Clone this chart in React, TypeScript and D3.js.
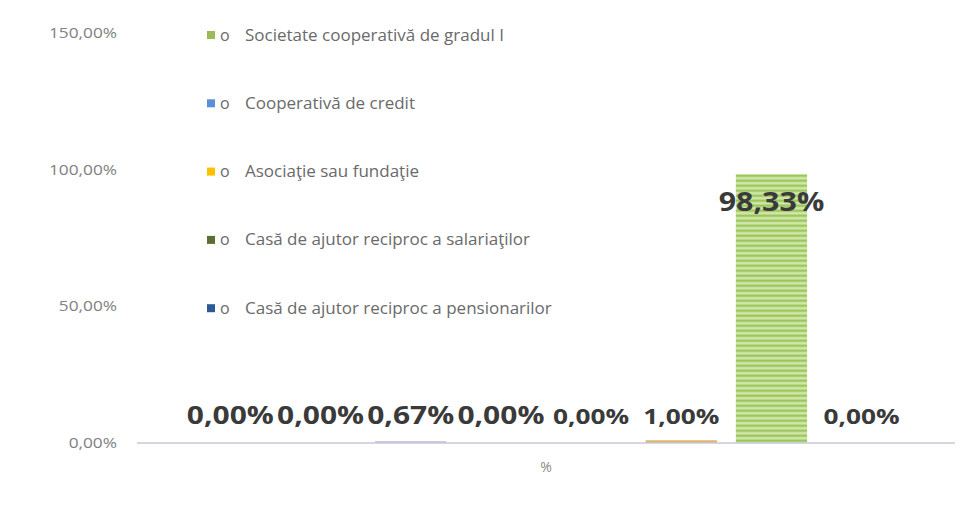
import React from "react";
import * as d3 from "d3";

const category = ["%"];
const legendNames = [
  "Societate cooperativă de gradul I",
  "Cooperativă de credit",
  "Asociaţie sau fundaţie",
  "Casă de ajutor reciproc a salariaţilor",
  "Casă de ajutor reciproc a pensionarilor",
];
const legendColors = ["#9bbb59", "#5b8fd6", "#ffc000", "#5d6e34", "#2c5a96"];
const barValues = [0.0, 0.0, 0.67, 0.0, 0.0, 1.0, 98.33, 0.0];
const barColors = ["#5b8fd6", "#2c5a96", "#c4c1d8", "#5d6e34", "#ffc000", "#e2b36a", "url(#greenStripes)", "#9bbb59"];
const yTicks = [0, 50, 100, 150];

const W = 968;
const H = 507;

const fmt = (v: number) => v.toFixed(2).replace(".", ",") + "%";

export default function App() {
  const y = d3.scaleLinear().domain([0, 150]).range([443, 33]);
  const x0 = d3.scaleBand<string>().domain(category).range([137, 955]).padding(0);
  const x1 = d3
    .scaleBand<number>()
    .domain(barValues.map((_, i) => i))
    .range([0, x0.bandwidth()])
    .paddingInner(0.21)
    .paddingOuter(0.64);

  const labelStyle = (i: number, v: number) =>
    v > 50 ? { size: 26, sx: 1.17 } : i < 4 ? { size: 25, sx: 1.2 } : { size: 21, sx: 1.25 };

  return (
    <svg
      width={W}
      height={H}
      style={{ position: "absolute", left: 0, top: 0, background: "#fff" }}
      fontFamily="'Open Sans', sans-serif"
    >
      <defs>
        <pattern id="greenStripes" width="8" height="5" patternUnits="userSpaceOnUse">
          <rect width="8" height="5" fill="#b9d984" />
          <rect y="0" width="8" height="1.5" fill="#9cc55c" />
          <rect y="2.5" width="8" height="1.2" fill="#d9ebbd" />
        </pattern>
      </defs>

      {/* y tick labels */}
      {yTicks.map((t) => (
        <text
          key={t}
          transform={`translate(117,${y(t) + 5}) scale(1.15,1)`}
          textAnchor="end"
          fontSize={15}
          fill="#7f7f7f"
        >
          {fmt(t)}
        </text>
      ))}

      {/* bars */}
      {category.map((c) => (
        <g key={c} transform={`translate(${x0(c)},0)`}>
          {barValues.map((v, i) => (
            <rect
              key={i}
              x={x1(i)}
              width={x1.bandwidth()}
              y={y(v)}
              height={y(0) - y(v)}
              fill={barColors[i]}
            />
          ))}
        </g>
      ))}

      {/* axis line */}
      <line x1={137} x2={955} y1={y(0)} y2={y(0)} stroke="#c9c8da" strokeWidth={1.5} />

      {/* value labels */}
      {category.map((c) =>
        barValues.map((v, i) => {
          const cx = (x0(c) as number) + (x1(i) as number) + x1.bandwidth() / 2;
          const cy = v > 50 ? y(v) + 37 : 424;
          const s = labelStyle(i, v);
          return (
            <text
              key={c + i}
              transform={`translate(${cx},${cy}) scale(${s.sx},1)`}
              textAnchor="middle"
              fontSize={s.size}
              fontWeight={700}
              fill="#3a3a3a"
            >
              {fmt(v)}
            </text>
          );
        })
      )}

      {/* category label */}
      {category.map((c) => (
        <text
          key={c}
          x={(x0(c) as number) + x0.bandwidth() / 2}
          y={472}
          textAnchor="middle"
          fontSize={14}
          fill="#8a8a8a"
        >
          {c}
        </text>
      ))}

      {/* legend */}
      {legendNames.map((n, i) => {
        const ly = 35 + i * 68.3;
        return (
          <g key={n}>
            <rect x={207} y={ly - 4} width={8} height={8} fill={legendColors[i]} />
            <text x={220} y={ly + 5.5} fontSize={16} fill="#6a6a6a">
              o
            </text>
            <text x={245} y={ly + 5.5} fontSize={17} fill="#6a6a6a">
              {n}
            </text>
          </g>
        );
      })}
    </svg>
  );
}
